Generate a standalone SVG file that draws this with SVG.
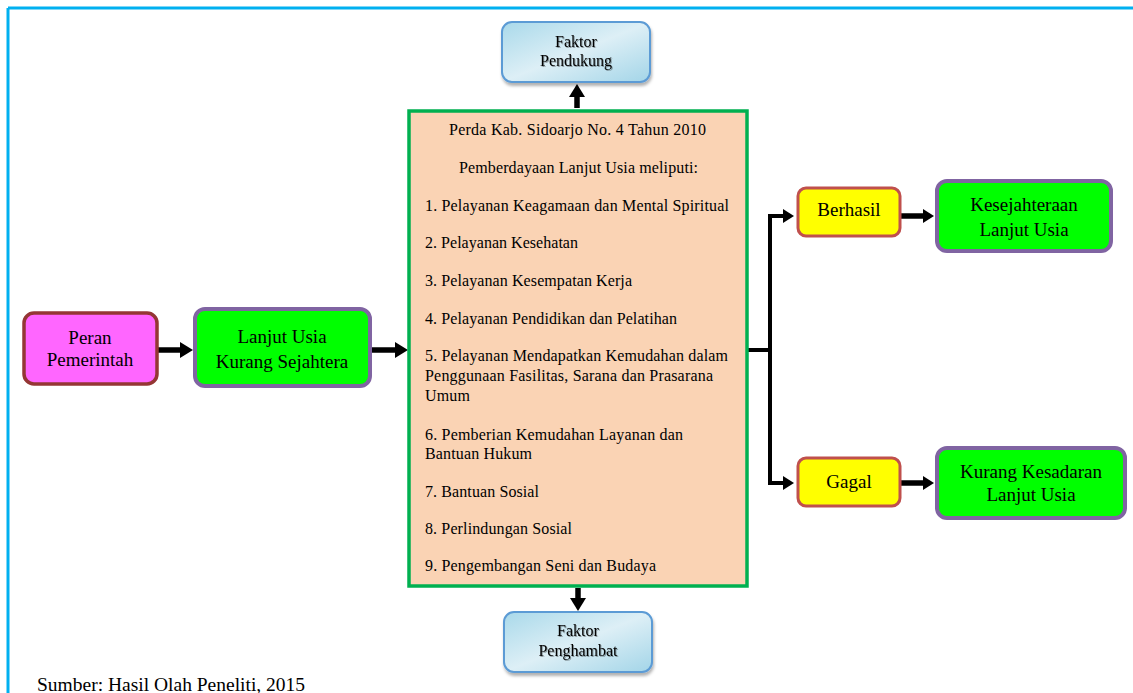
<svg xmlns="http://www.w3.org/2000/svg" width="1133" height="693" viewBox="0 0 1133 693">
<defs>
<style>
text{font-family:"Liberation Serif","Times New Roman",serif;fill:#000;}
.t16{font-size:16px;}
.t19{font-size:19px;}
.mid{text-anchor:middle;}
.blue{fill:url(#gb);stroke:#5B9BD5;stroke-width:2;}
.green{fill:#00FF00;stroke:#8064A2;stroke-width:4;}
.yellow{fill:#FFFF00;stroke:#C0504D;stroke-width:3;}
.pink{fill:#FF66FF;stroke:#943634;stroke-width:3.5;}
.main{fill:#FAD3B4;stroke:#00B050;stroke-width:3.5;}
.fshadow{filter:url(#sh);}
.conn{fill:none;stroke:#000;}
.thick{stroke-width:5.5;}
.med{stroke-width:4;}
.ts{filter:url(#tsh);}
</style>
<linearGradient id="gb" x1="0" y1="0" x2="1" y2="1">
<stop offset="0" stop-color="#A9D9EA"/>
<stop offset="0.5" stop-color="#DDEFF6"/>
<stop offset="1" stop-color="#A3D5E8"/>
</linearGradient>
<filter id="sh" x="-10%" y="-10%" width="130%" height="140%">
<feDropShadow dx="1" dy="3" stdDeviation="1.5" flood-color="#000" flood-opacity="0.3"/>
</filter>
<filter id="tsh" x="-10%" y="-20%" width="130%" height="150%">
<feDropShadow dx="1" dy="1" stdDeviation="0.5" flood-color="#000" flood-opacity="0.35"/>
</filter>
<marker id="ah" markerUnits="userSpaceOnUse" markerWidth="14" markerHeight="16" refX="5" refY="8" orient="auto">
<path d="M0,0 L13,8 L0,16 z" fill="#000"/>
</marker>
<marker id="ahs" markerUnits="userSpaceOnUse" markerWidth="12" markerHeight="14" refX="4" refY="7" orient="auto">
<path d="M0,0 L11,7 L0,14 z" fill="#000"/>
</marker>
</defs>
<rect x="0" y="0" width="1133" height="693" fill="#fff"/>
<g id="frame">
<line x1="8" y1="8" x2="1133" y2="8" stroke="#00B0F0" stroke-width="3"/>
<line x1="8" y1="8" x2="8" y2="693" stroke="#00B0F0" stroke-width="3"/>
</g>

<g id="connectors">
<line class="conn thick" x1="157" y1="350" x2="185" y2="350" marker-end="url(#ah)"/>
<line class="conn thick" x1="371" y1="350" x2="400" y2="350" marker-end="url(#ah)"/>
<line class="conn thick" x1="577" y1="108" x2="577" y2="92" marker-end="url(#ah)"/>
<line class="conn thick" x1="578" y1="588" x2="578" y2="603" marker-end="url(#ah)"/>
<line class="conn med" x1="747" y1="350" x2="770" y2="350"/>
<path class="conn med" d="M787,216 L770,216 L770,483 L787,483" marker-end="url(#ahs)"/>
<path class="conn med" d="M770,216 L787,216" marker-end="url(#ahs)"/>
<line class="conn thick" x1="901" y1="216" x2="927" y2="216" marker-end="url(#ahs)"/>
<line class="conn thick" x1="901" y1="483" x2="927" y2="483" marker-end="url(#ahs)"/>
</g>

<g id="faktor-pendukung">
<rect class="blue fshadow" x="502" y="22" width="148" height="60" rx="10"/>
<text class="t16 mid ts" x="576" y="47">Faktor</text>
<text class="t16 mid ts" x="576" y="66">Pendukung</text>
</g>

<g id="faktor-penghambat">
<rect class="blue fshadow" x="504" y="612" width="148" height="60" rx="10"/>
<text class="t16 mid ts" x="578" y="636">Faktor</text>
<text class="t16 mid ts" x="578" y="656">Penghambat</text>
</g>

<g id="peran-pemerintah">
<rect class="pink" x="24" y="313" width="133" height="71" rx="10"/>
<text class="t19 mid" x="90" y="344">Peran</text>
<text class="t19 mid" x="90" y="366">Pemerintah</text>
</g>

<g id="lanjut-usia-kurang-sejahtera">
<rect class="green" x="195" y="309" width="175" height="77" rx="10"/>
<text class="t19 mid" x="282" y="343">Lanjut Usia</text>
<text class="t19 mid" x="282" y="368">Kurang Sejahtera</text>
</g>

<g id="perda">
<rect class="main" x="409" y="111" width="338" height="475"/>
<text class="t16" x="449" y="135" textLength="257">Perda Kab. Sidoarjo No. 4 Tahun 2010</text>
<text class="t16" x="459" y="173" textLength="239">Pemberdayaan Lanjut Usia meliputi:</text>
<text class="t16" x="425" y="211" textLength="304">1. Pelayanan Keagamaan dan Mental Spiritual</text>
<text class="t16" x="425" y="248" textLength="153">2. Pelayanan Kesehatan</text>
<text class="t16" x="425" y="286" textLength="207">3. Pelayanan Kesempatan Kerja</text>
<text class="t16" x="425" y="324" textLength="252">4. Pelayanan Pendidikan dan Pelatihan</text>
<text class="t16" x="425" y="361" textLength="303">5. Pelayanan Mendapatkan Kemudahan dalam</text>
<text class="t16" x="425" y="381" textLength="288">Penggunaan Fasilitas, Sarana dan Prasarana</text>
<text class="t16" x="425" y="401" textLength="45">Umum</text>
<text class="t16" x="425" y="440" textLength="258">6. Pemberian Kemudahan Layanan dan</text>
<text class="t16" x="425" y="459" textLength="107">Bantuan Hukum</text>
<text class="t16" x="425" y="497" textLength="114">7. Bantuan Sosial</text>
<text class="t16" x="425" y="534" textLength="147">8. Perlindungan Sosial</text>
<text class="t16" x="425" y="571" textLength="231">9. Pengembangan Seni dan Budaya</text>
</g>

<g id="berhasil">
<rect class="yellow" x="798" y="188" width="102" height="48" rx="8"/>
<text class="t19 mid" x="849" y="216">Berhasil</text>
</g>

<g id="kesejahteraan-lanjut-usia">
<rect class="green" x="937" y="181" width="174" height="70" rx="10"/>
<text class="t19 mid" x="1024" y="211">Kesejahteraan</text>
<text class="t19 mid" x="1024" y="236">Lanjut Usia</text>
</g>

<g id="gagal">
<rect class="yellow" x="798" y="458" width="102" height="48" rx="8"/>
<text class="t19 mid" x="849" y="488">Gagal</text>
</g>

<g id="kurang-kesadaran-lanjut-usia">
<rect class="green" x="937" y="448" width="188" height="70" rx="10"/>
<text class="t19 mid" x="1031" y="478">Kurang Kesadaran</text>
<text class="t19 mid" x="1031" y="501">Lanjut Usia</text>
</g>

<text class="t19" x="37" y="691" style="font-size:19.5px">Sumber: Hasil Olah Peneliti, 2015</text>
</svg>
